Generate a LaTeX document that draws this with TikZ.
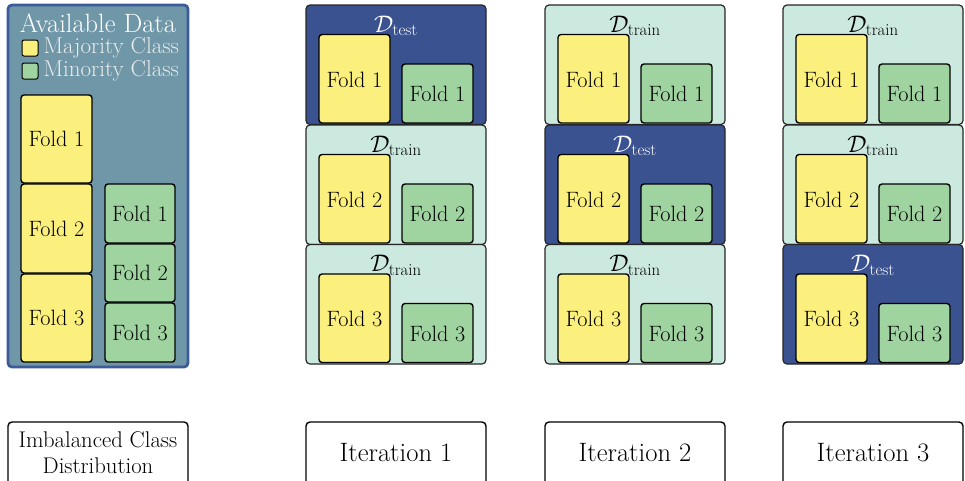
\RequirePackage{fix-cm}
\documentclass[tikz,border=0pt]{standalone}
\usepackage{amsmath}
\usepackage{fontspec}
\definecolor{maj}{HTML}{FBEF7D}
\definecolor{mino}{HTML}{9FD3A0}
\definecolor{testc}{HTML}{3A5290}
\definecolor{trainc}{HTML}{CCE9E0}
\definecolor{availc}{HTML}{6F97A7}
\definecolor{availb}{HTML}{3D5A9A}
\tikzset{
  fold/.style={draw=black, line width=1.4pt, rounded corners=3pt},
  majbox/.style={fold, fill=maj},
  minbox/.style={fold, fill=mino},
  sect/.style={draw=black!85, line width=1.2pt, rounded corners=4pt},
  foldtxt/.style={font=\fontsize{22.2}{25}\selectfont, text=black},
  dlabel/.style={font=\fontsize{24}{26}\selectfont},
  bottombox/.style={draw=black, line width=1.4pt, rounded corners=4pt, fill=white},
}
\begin{document}
\begin{tikzpicture}[x=1pt,y=-1pt]
\useasboundingbox (0,0) rectangle (965,480);
% ---------- left panel
\draw[fill=availc, draw=availb, line width=2.8pt, rounded corners=4pt] (8,5) rectangle (188,367);
\node[font=\fontsize{26.5}{30}\selectfont, text=white] (avail) at (98,23) {Available Data};
\draw[fill=maj, draw=black, line width=1pt, rounded corners=2pt] (22,40) rectangle (38,56);
\node[anchor=west, font=\fontsize{23}{26}\selectfont, text=white!92!black] (majl) at (40,48) {Majority Class};
\draw[fill=mino, draw=black, line width=1pt, rounded corners=2pt] (22,63) rectangle (38,79);
\node[anchor=west, font=\fontsize{23}{26}\selectfont, text=white!92!black] (minl) at (40,71) {Minority Class};
\foreach \i/\ya/\yb in {1/95/183, 2/184/273, 3/274/362}{
  \draw[majbox] (21,\ya) rectangle (92,\yb);
  \node[foldtxt] (am\i) at (56.5,{(\ya+\yb)/2}) {Fold \i};
}
\foreach \i/\ya/\yb in {1/184/243, 2/244/302, 3/303/362}{
  \draw[minbox] (105,\ya) rectangle (175,\yb);
  \node[foldtxt] (an\i) at (140,{(\ya+\yb)/2}) {Fold \i};
}
% ---------- iteration columns
\foreach \c/\L in {1/306, 2/545, 3/783}{
  \foreach \s/\T in {1/5, 2/125, 3/244.5}{
    \ifnum\c=\s
      \draw[sect, fill=testc] (\L,\T) rectangle ({\L+180},{\T+119.5});
      \node[dlabel, text=white] (d\c\s) at ({\L+90},{\T+21}) {$\mathcal{D}_{\text{test}}$};
    \else
      \draw[sect, fill=trainc] (\L,\T) rectangle ({\L+180},{\T+119.5});
      \node[dlabel, text=black] (d\c\s) at ({\L+90},{\T+21}) {$\mathcal{D}_{\text{train}}$};
    \fi
    \draw[majbox] ({\L+13},{\T+29.5}) rectangle ({\L+84},{\T+118});
    \node[foldtxt] (y\c\s) at ({\L+48.5},{\T+74.5}) {Fold \s};
    \draw[minbox] ({\L+96},{\T+59}) rectangle ({\L+167},{\T+118});
    \node[foldtxt] (g\c\s) at ({\L+131.5},{\T+89}) {Fold \s};
  }
}
% ---------- bottom boxes
\draw[bottombox] (8,422) rectangle (188,490);
\node[font=\fontsize{22.7}{26}\selectfont, align=center] (imb) at (98,453) {Imbalanced Class\\Distribution};
\foreach \c/\L in {1/306, 2/545, 3/783}{
  \draw[bottombox] (\L,422) rectangle ({\L+180},490);
  \node[font=\fontsize{26.6}{30}\selectfont] (it\c) at ({\L+90},453) {Iteration \c};
}
\end{tikzpicture}
\end{document}
